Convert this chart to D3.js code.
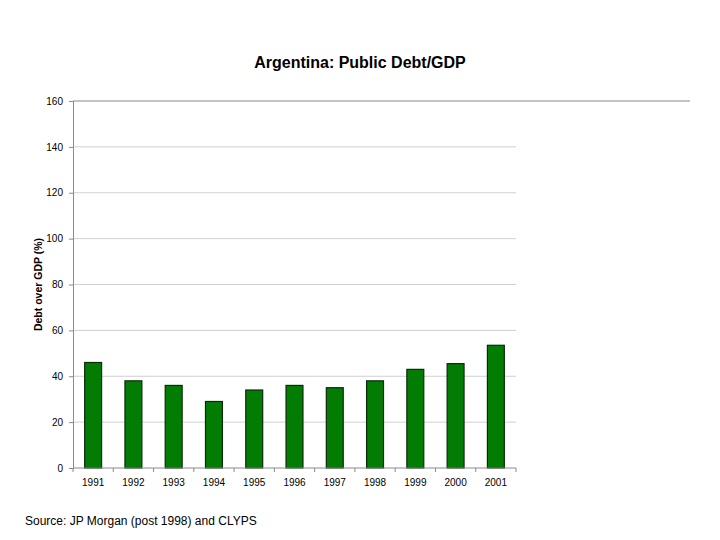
<!DOCTYPE html>
<html><head><meta charset="utf-8">
<script src="https://cdn.jsdelivr.net/npm/d3@7"></script>
<style>body{margin:0;background:#fff}svg{display:block}text{font-family:"Liberation Sans",Arial,sans-serif}</style>
</head><body>
<svg id="c" width="720" height="540"></svg>
<script>
const years = ["1991","1992","1993","1994","1995","1996","1997","1998","1999","2000","2001"];
const debt = [46, 38, 36, 29, 34, 36, 35, 38, 43, 45.5, 53.5];
const yTicks = [0,20,40,60,80,100,120,140,160];
const title = "Argentina: Public Debt/GDP";
const yLabel = "Debt over GDP (%)";
const source = "Source: JP Morgan (post 1998) and CLYPS";

const svg = d3.select("#c");
const L=73, R=516, T=101, B=468;
const x = d3.scaleBand().domain(years).range([L,R]).paddingInner(0.58).paddingOuter(0.29);
const y = d3.scaleLinear().domain([0,160]).range([B,T]);

// gridlines
svg.append("g").selectAll("line").data(yTicks.filter(d=>d>0 && d<160)).join("line")
  .attr("x1",L).attr("x2",R).attr("y1",d=>y(d)).attr("y2",d=>y(d))
  .attr("stroke","#d0d0d0").attr("stroke-width",1);
// top line extending right
svg.append("line").attr("x1",L).attr("x2",690).attr("y1",y(160)).attr("y2",y(160))
  .attr("stroke","#8a8a8a").attr("stroke-width",1.2);

// bars
svg.append("g").selectAll("rect").data(years).join("rect")
  .attr("x",d=>x(d)).attr("width",x.bandwidth())
  .attr("y",(d,i)=>y(debt[i])).attr("height",(d,i)=>B-y(debt[i]))
  .attr("fill","#037c03").attr("stroke","#0a2a0a").attr("stroke-width",1.2);

// y axis
const ya = svg.append("g").attr("transform",`translate(${L},0)`)
  .call(d3.axisLeft(y).tickValues(yTicks).tickSize(4).tickPadding(6));
ya.select(".domain").attr("stroke","#8a8a8a");
ya.selectAll(".tick line").attr("stroke","#8a8a8a");
ya.selectAll("text").attr("font-size","10px").attr("fill","#000");

// x axis
const xa = svg.append("g").attr("transform",`translate(0,${B})`)
  .call(d3.axisBottom(x).tickSize(0).tickPadding(11));
xa.select(".domain").attr("stroke","#8a8a8a").attr("d",`M${L},0H${R}`);
xa.selectAll("text").attr("font-size","10px").attr("fill","#000");
const bounds = d3.range(0, years.length+1).map(i=>L+i*(R-L)/years.length);
xa.append("g").selectAll("line").data(bounds).join("line")
  .attr("x1",d=>d).attr("x2",d=>d).attr("y1",0).attr("y2",4).attr("stroke","#8a8a8a");

// title
svg.append("text").attr("x",360).attr("y",68).attr("text-anchor","middle")
  .attr("font-size","16px").attr("font-weight","bold").text(title);
// y label
svg.append("text").attr("transform",`translate(42,${(T+B)/2}) rotate(-90)`)
  .attr("text-anchor","middle").attr("font-size","10.5px").attr("font-weight","bold").text(yLabel);
// source
svg.append("text").attr("x",25).attr("y",525).attr("font-size","12px").text(source);
</script>
</body></html>
